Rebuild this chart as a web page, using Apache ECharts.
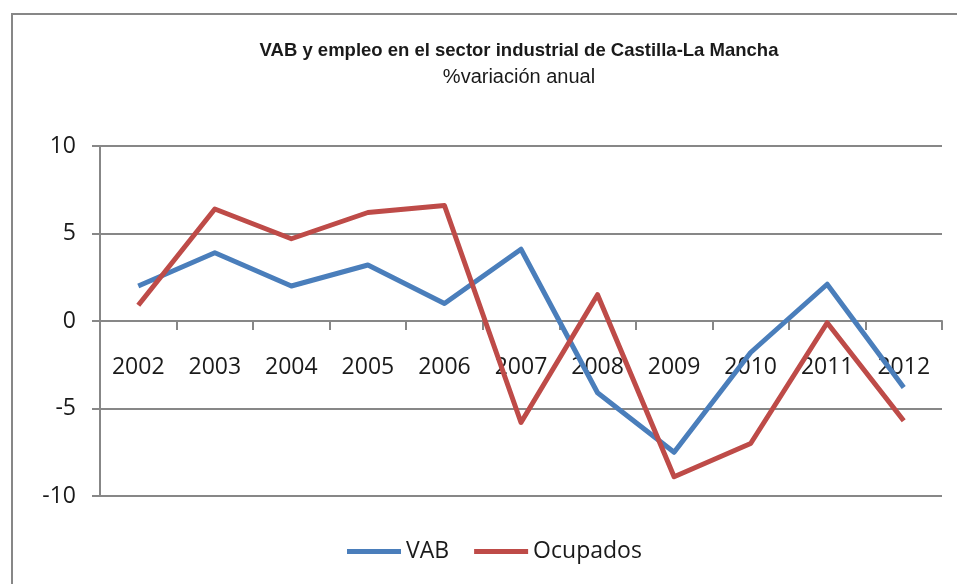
<!DOCTYPE html>
<html>
<head>
<meta charset="utf-8">
<script src="https://cdn.jsdelivr.net/npm/echarts@6/dist/echarts.min.js"></script>
<style>
  html, body { margin: 0; padding: 0; background: #fff; }
  #chart { width: 957px; height: 584px; }
</style>
</head>
<body>
<div id="chart"></div>
<script>
  // datos
  const years = ['2002', '2003', '2004', '2005', '2006', '2007', '2008', '2009', '2010', '2011', '2012']
  const vab = [2.0, 3.9, 2.0, 3.2, 1.0, 4.1, -4.1, -7.5, -1.8, 2.1, -3.8]
  const ocupados = [0.9, 6.4, 4.7, 6.2, 6.6, -5.8, 1.5, -8.9, -7.0, -0.1, -5.7]
  const yTicks = [-10, -5, 0, 5, 10]

  const textFont = '"Liberation Sans", sans-serif'
  const labelFont = '"Open Sans", "Liberation Sans", sans-serif'
  const gray = '#878787'

  const chart = echarts.init(document.getElementById('chart'))
  chart.setOption({
    animation: false,
    graphic: [{
      type: 'rect',
      shape: { x: 12, y: 14, width: 1000, height: 640 },
      style: { fill: 'none', stroke: gray, lineWidth: 2 },
      silent: true
    }],
    title: {
      text: 'VAB y empleo en el sector industrial de Castilla-La Mancha',
      subtext: '%variación anual',
      left: 514,
      textAlign: 'center',
      top: 36,
      itemGap: 7,
      textStyle: { fontFamily: textFont, fontWeight: 'bold', fontSize: 18.5, color: '#1a1a1a' },
      subtextStyle: { fontFamily: textFont, fontSize: 20, color: '#1a1a1a' }
    },
    legend: {
      bottom: 16,
      left: 342,
      itemWidth: 54,
      itemHeight: 5,
      itemGap: 25,
      icon: 'rect',
      textStyle: { fontFamily: labelFont, fontSize: 23, color: '#1a1a1a' },
      data: ['VAB', 'Ocupados']
    },
    grid: { left: 100, right: 15, top: 146, bottom: 88 },
    xAxis: {
      type: 'category',
      data: years,
      boundaryGap: true,
      axisLine: { onZero: true, lineStyle: { color: gray, width: 2 } },
      axisTick: { show: true, length: 9, lineStyle: { color: gray, width: 2 } },
      // las etiquetas van justo bajo el eje del cero
      axisLabel: { margin: -140, fontFamily: labelFont, fontSize: 23, color: '#1a1a1a' },
      splitLine: { show: false }
    },
    yAxis: {
      type: 'value',
      min: yTicks[0],
      max: yTicks[yTicks.length - 1],
      interval: 5,
      axisLine: { show: true, lineStyle: { color: gray, width: 2 } },
      axisTick: { show: true, length: 8, lineStyle: { color: gray, width: 2 } },
      axisLabel: { margin: 24, fontFamily: labelFont, fontSize: 23, color: '#1a1a1a' },
      splitLine: { show: true, lineStyle: { color: gray, width: 2 } }
    },
    series: [
      {
        name: 'VAB',
        type: 'line',
        data: vab,
        color: '#4a7ebb',
        symbol: 'none',
        lineStyle: { width: 5, color: '#4a7ebb', join: 'round' },
        z: 3
      },
      {
        name: 'Ocupados',
        type: 'line',
        data: ocupados,
        color: '#be4b48',
        symbol: 'none',
        lineStyle: { width: 5, color: '#be4b48', join: 'round' },
        z: 4
      }
    ]
  })
</script>
</body>
</html>
